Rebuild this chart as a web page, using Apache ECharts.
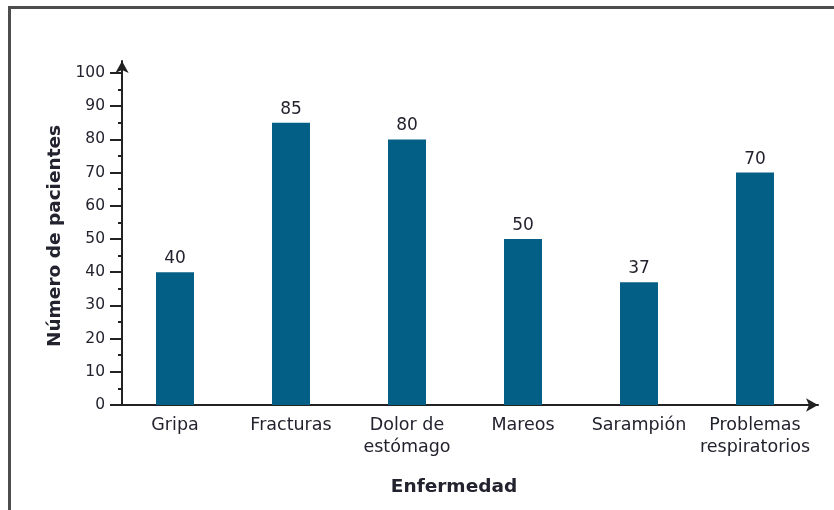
<!DOCTYPE html>
<html>
<head>
<meta charset="utf-8">
<script src="https://cdn.jsdelivr.net/npm/echarts@6/dist/echarts.min.js"></script>
<style>
  html, body { margin: 0; padding: 0; background: #fff; }
  #frame { position: absolute; left: 8px; top: 6px; width: 840px; height: 520px;
           border-top: 3px solid #4d4d4d; border-left: 3px solid #4d4d4d; box-sizing: border-box; }
  #chart { position: absolute; left: 0; top: 0; width: 834px; height: 510px; }
</style>
</head>
<body>
<div id="frame"></div>
<div id="chart"></div>
<script>
const categories = ['Gripa', 'Fracturas', 'Dolor de\nestómago', 'Mareos', 'Sarampión', 'Problemas\nrespiratorios'];
const patients = [40, 85, 80, 50, 37, 70];
const yTicks = [0, 10, 20, 30, 40, 50, 60, 70, 80, 90, 100];

const FONT = 'DejaVu Sans';
const TXT = '#23232f';
const AX = '#222';
const BAR = '#045f87';

const chart = echarts.init(document.getElementById('chart'), null, { renderer: 'canvas' });
chart.setOption({
  animation: false,
  backgroundColor: 'transparent',
  grid: [
    { left: 117, right: 21, top: 73, bottom: 105 },
    { left: 114, right: 16, top: 61, bottom: 105 },
    { left: 122, right: 16, top: 61, bottom: 105 }
  ],
  xAxis: [
    {
      type: 'category', gridIndex: 0, data: categories,
      axisLine: { show: false }, axisTick: { show: false },
      axisLabel: { color: TXT, fontFamily: FONT, fontSize: 17.5, margin: 9, lineHeight: 22, interval: 0 },
      name: 'Enfermedad', nameLocation: 'middle', nameGap: 73,
      nameTextStyle: { color: TXT, fontFamily: FONT, fontSize: 18.5, fontWeight: 'bold', padding: [0, 22, 0, 0] }
    },
    {
      type: 'value', gridIndex: 1, min: 0, max: 1,
      axisLine: { show: true, lineStyle: { color: AX, width: 2 }, symbol: ['none', 'arrow'], symbolSize: [10, 12] },
      axisTick: { show: false }, axisLabel: { show: false }, splitLine: { show: false }
    },
    {
      type: 'value', gridIndex: 2, min: 0, max: 1, show: false
    }
  ],
  yAxis: [
    {
      type: 'value', gridIndex: 0, min: 0, max: 100, interval: 10, offset: -5,
      axisLine: { show: false },
      axisTick: { show: true, length: 12, lineStyle: { color: AX, width: 2 } },
      minorTick: { show: true, splitNumber: 2, length: 4, lineStyle: { color: AX, width: 2 } },
      axisLabel: { color: TXT, fontFamily: FONT, fontSize: 15.5, margin: 17, customValues: yTicks },
      splitLine: { show: false },
      name: 'Número de pacientes', nameLocation: 'middle', nameGap: 57, nameRotate: 90,
      nameTextStyle: { color: TXT, fontFamily: FONT, fontSize: 18.5, fontWeight: 'bold', padding: [0, 0, 0, 6] }
    },
    {
      type: 'value', gridIndex: 1, min: 0, max: 1, show: false
    },
    {
      type: 'value', gridIndex: 2, min: 0, max: 1,
      axisLine: { show: true, lineStyle: { color: AX, width: 2 }, symbol: ['none', 'arrow'], symbolSize: [10, 12] },
      axisTick: { show: false }, axisLabel: { show: false }, splitLine: { show: false }
    }
  ],
  series: [{
    type: 'bar', xAxisIndex: 0, yAxisIndex: 0,
    data: patients, barWidth: 38,
    itemStyle: { color: BAR },
    label: { show: true, position: 'top', distance: 5, color: TXT, fontFamily: FONT, fontSize: 17 }
  }]
});
</script>
</body>
</html>
